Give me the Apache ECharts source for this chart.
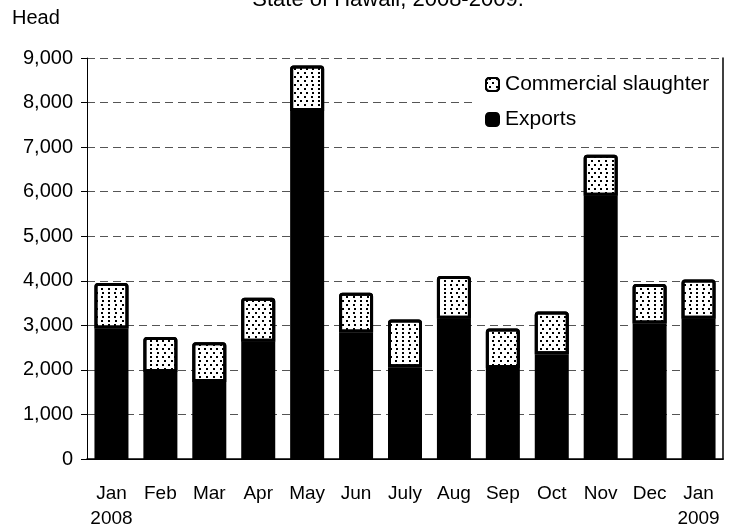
<!DOCTYPE html>
<html>
<head>
<meta charset="utf-8">
<script src="https://cdn.jsdelivr.net/npm/echarts@6/dist/echarts.min.js"></script>
<style>
html, body { margin: 0; padding: 0; background: #fff; }
#chart { width: 735px; height: 531px; }
</style>
</head>
<body>
<div id="chart"></div>
<script>
// month labels, two lines for the first and last bars
var months = ['Jan\n2008', 'Feb', 'Mar', 'Apr', 'May', 'Jun', 'July', 'Aug', 'Sep', 'Oct', 'Nov', 'Dec', 'Jan\n2009'];
// head counts
var exportsHead = [2930, 1950, 1730, 2630, 7810, 2840, 2060, 3150, 2040, 2350, 5910, 3040, 3150];
var slaughterHead = [1020, 790, 890, 990, 1020, 890, 1070, 960, 890, 960, 920, 890, 880];
var yTicks = [0, 1000, 2000, 3000, 4000, 5000, 6000, 7000, 8000, 9000];

var font = 'Liberation Sans, Arial, sans-serif';

var chart = echarts.init(document.getElementById('chart'), null, { renderer: 'canvas' });

var option = {
	backgroundColor: '#FFFFFF',
	animation: false,
	textStyle: { fontFamily: font },
	graphic: [
		{ type: 'text', left: 12, top: 8, style: { text: 'Head', font: '20px ' + font, fill: '#000' } },
		{ type: 'text', x: 388, y: 11, style: { text: 'State of Hawaii, 2008-2009.', font: '22px ' + font, fill: '#000', textAlign: 'center', textVerticalAlign: 'bottom' } },
		// white box behind the legend, covering the grid lines
		{ type: 'rect', z: 3, shape: { x: 475, y: 59, width: 247, height: 80 }, style: { fill: '#fff' } }
	],
	grid: { left: 87, right: 12, top: 58, bottom: 69 },
	legend: {
		orient: 'vertical',
		left: 474,
		top: 59,
		padding: [15, 10, 10, 11],
		itemGap: 14,
		itemWidth: 13,
		itemHeight: 13,
		z: 5,
		data: ['Commercial slaughter', 'Exports'],
		textStyle: { fontSize: 21, fontFamily: font, color: '#000', padding: [0, 0, 0, 1] }
	},
	xAxis: [{
		type: 'category',
		data: months,
		axisLine: { lineStyle: { color: '#000', width: 1 } },
		axisTick: { length: 5, lineStyle: { color: '#000' } },
		axisLabel: { color: '#000', fontSize: 19, margin: 22, lineHeight: 25, interval: 0 }
	}, {
		type: 'category',
		position: 'top',
		data: months,
		axisLine: { lineStyle: { color: '#000', width: 1.5 } },
		axisTick: { show: false },
		axisLabel: { show: false }
	}],
	yAxis: [{
		type: 'value',
		min: 0,
		max: 9000,
		interval: 1000,
		axisLine: { show: true, lineStyle: { color: '#000' } },
		axisTick: { show: true, length: 6, lineStyle: { color: '#000' } },
		axisLabel: {
			color: '#000', fontSize: 20, margin: 14,
			formatter: function (v) { return v.toLocaleString('en-US'); }
		},
		splitLine: { lineStyle: { color: '#555', type: [8, 5], width: 1 } }
	}, {
		type: 'value',
		position: 'right',
		min: 0,
		max: 9000,
		interval: 1000,
		axisLine: { show: true, lineStyle: { color: '#000', width: 1.5 } },
		axisTick: { show: false },
		axisLabel: { show: false },
		splitLine: { show: false }
	}],
	series: [{
		name: 'Exports',
		type: 'bar',
		stack: 'head',
		barWidth: 34,
		data: exportsHead,
		itemStyle: { color: '#000', borderColor: '#000', borderWidth: 3 }
	}, {
		name: 'Commercial slaughter',
		type: 'bar',
		stack: 'head',
		barWidth: 34,
		data: slaughterHead,
		itemStyle: {
			color: '#fff',
			borderColor: '#000',
			borderWidth: 3,
			borderRadius: [2, 2, 0, 0],
			decal: {
				symbol: 'rect',
				symbolSize: 1,
				color: '#000',
				dashArrayX: [[1.3, 3.7], [0, 2.5, 1.3, 1.2]],
				dashArrayY: [1.3, 1.3],
				rotation: 0
			}
		}
	}]
};

chart.setOption(option);
</script>
</body>
</html>
